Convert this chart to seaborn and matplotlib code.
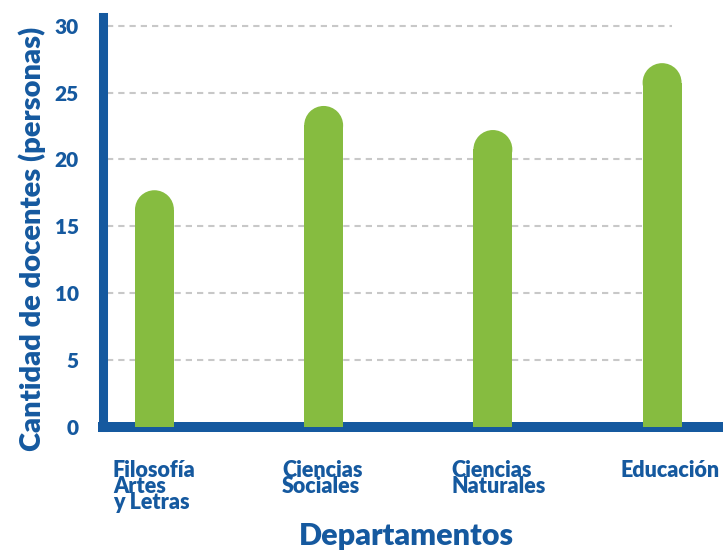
import matplotlib
matplotlib.use("Agg")
import matplotlib.pyplot as plt
import matplotlib.transforms as mtransforms
from matplotlib.patches import Ellipse
import pandas as pd
import seaborn as sns

# data
departamentos = ["Filosofía\nArtes\ny Letras", "Ciencias\nSociales", "Ciencias\nNaturales", "Educación"]
docentes = [17.7, 24.0, 22.2, 27.2]
yticks = [0, 5, 10, 15, 20, 25, 30]

BLUE = "#15599f"
GREEN = "#86bc40"
GRID = "#c8c8c8"
W = "heavy"

sns.set_style("white")
plt.rcParams["font.family"] = ["Lato", "DejaVu Sans"]

df = pd.DataFrame({"dep": departamentos, "n": docentes})

fig = plt.figure(figsize=(7.23, 5.53), dpi=100)
ax = fig.add_axes([102.5 / 723, 126 / 553, 1 - 102.5 / 723, 410 / 553])

bar_w = 0.23
sns.barplot(data=df, x="dep", y="n", color=GREEN, width=bar_w, saturation=1, ax=ax, zorder=3)

ax.set_xlim(-0.307, 3.36)
ax.set_ylim(0, 30.65)

# round the tops of the bars (radius = half the bar width, in screen units)
ax_w_px = fig.get_figwidth() * fig.dpi * ax.get_position().width
ax_h_px = fig.get_figheight() * fig.dpi * ax.get_position().height
px_x = ax_w_px / (ax.get_xlim()[1] - ax.get_xlim()[0])
px_y = ax_h_px / (ax.get_ylim()[1] - ax.get_ylim()[0])
r = (bar_w * px_x / 2) / px_y
for p in list(ax.patches):
    h = p.get_height()
    p.set_height(h - r)
    p.set_linewidth(0)
    cx = p.get_x() + p.get_width() / 2
    ax.add_patch(Ellipse((cx, h - r), p.get_width(), 2 * r, color=GREEN, lw=0, zorder=3))

# dashed guide lines
ax.hlines(yticks[1:], -0.28, 3.06, colors=GRID, lw=1.5, linestyles=(0, (3, 2.4)), zorder=1)

for s in ["top", "right"]:
    ax.spines[s].set_visible(False)
ax.spines["left"].set_color(BLUE)
ax.spines["left"].set_linewidth(6.5)
ax.spines["bottom"].set_color(BLUE)
ax.spines["bottom"].set_linewidth(7.2)

ax.set_yticks(yticks)
ax.tick_params(axis="y", length=0, pad=17, labelsize=15, labelcolor=BLUE)
ax.tick_params(axis="x", length=0, pad=24, labelsize=15.5, labelcolor=BLUE)
for lab in ax.get_yticklabels():
    lab.set_fontweight(W)
offset = mtransforms.ScaledTranslation(-30 / 72, 0, fig.dpi_scale_trans)
for lab in ax.get_xticklabels():
    lab.set_fontweight(W)
    lab.set_ha("left")
    lab.set_va("top")
    lab.set_linespacing(0.7)
    lab.set_transform(lab.get_transform() + offset)

ax.set_ylabel("Cantidad de docentes (personas)", fontsize=21, fontweight=W, color=BLUE)
ax.yaxis.set_label_coords(-0.091, 0.458, transform=ax.transAxes)
ax.set_xlabel("Departamentos", fontsize=22, fontweight=W, color=BLUE)
ax.xaxis.set_label_coords(0.49, -0.0, transform=ax.transAxes)
ax.xaxis.label.set_va("bottom")
ax.xaxis.label.set_transform(ax.transAxes + mtransforms.ScaledTranslation(0, -123 / 100, fig.dpi_scale_trans))

fig.savefig("out.png", dpi=100)
